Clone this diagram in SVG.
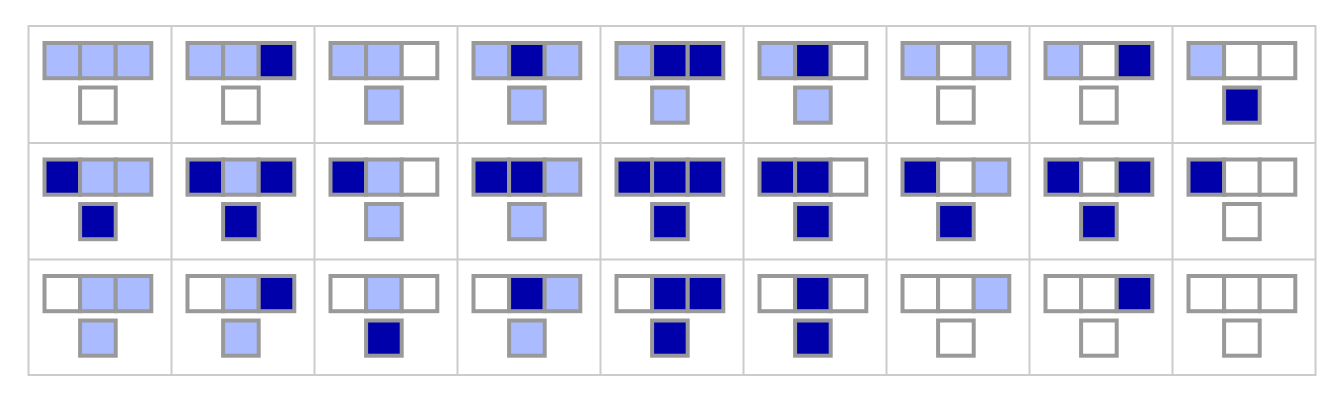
<svg xmlns="http://www.w3.org/2000/svg" width="1342" height="402" viewBox="0 0 1342 402">
<style>
.g{fill:none;stroke:#cccccc;stroke-width:2}
.c{stroke:#999999;stroke-width:4}
.L{fill:#aabbff}
.D{fill:#0000aa}
.W{fill:#ffffff}
</style>
<rect width="1342" height="402" fill="#ffffff"/>
<g id="grid" class="g">
<rect x="28.5" y="26" width="1287" height="349"/>
<path d="M171.5 26V375M314.5 26V375M457.5 26V375M600.5 26V375M743.5 26V375M886.5 26V375M1029.5 26V375M1172.5 26V375M28.5 143H1315.5M28.5 259.5H1315.5"/>
</g>
<g id="connectors"></g>
<g id="r1c1" transform="translate(28.5,26)"><rect class="c L" x="16" y="17" width="35.6" height="35.2"/><rect class="c L" x="51.6" y="17" width="35.6" height="35.2"/><rect class="c L" x="87.2" y="17" width="35.6" height="35.2"/><rect class="c W" x="51.6" y="61.5" width="35.6" height="35.2"/></g>
<g id="r1c2" transform="translate(171.5,26)"><rect class="c L" x="16" y="17" width="35.6" height="35.2"/><rect class="c L" x="51.6" y="17" width="35.6" height="35.2"/><rect class="c D" x="87.2" y="17" width="35.6" height="35.2"/><rect class="c W" x="51.6" y="61.5" width="35.6" height="35.2"/></g>
<g id="r1c3" transform="translate(314.5,26)"><rect class="c L" x="16" y="17" width="35.6" height="35.2"/><rect class="c L" x="51.6" y="17" width="35.6" height="35.2"/><rect class="c W" x="87.2" y="17" width="35.6" height="35.2"/><rect class="c L" x="51.6" y="61.5" width="35.6" height="35.2"/></g>
<g id="r1c4" transform="translate(457.5,26)"><rect class="c L" x="16" y="17" width="35.6" height="35.2"/><rect class="c D" x="51.6" y="17" width="35.6" height="35.2"/><rect class="c L" x="87.2" y="17" width="35.6" height="35.2"/><rect class="c L" x="51.6" y="61.5" width="35.6" height="35.2"/></g>
<g id="r1c5" transform="translate(600.5,26)"><rect class="c L" x="16" y="17" width="35.6" height="35.2"/><rect class="c D" x="51.6" y="17" width="35.6" height="35.2"/><rect class="c D" x="87.2" y="17" width="35.6" height="35.2"/><rect class="c L" x="51.6" y="61.5" width="35.6" height="35.2"/></g>
<g id="r1c6" transform="translate(743.5,26)"><rect class="c L" x="16" y="17" width="35.6" height="35.2"/><rect class="c D" x="51.6" y="17" width="35.6" height="35.2"/><rect class="c W" x="87.2" y="17" width="35.6" height="35.2"/><rect class="c L" x="51.6" y="61.5" width="35.6" height="35.2"/></g>
<g id="r1c7" transform="translate(886.5,26)"><rect class="c L" x="16" y="17" width="35.6" height="35.2"/><rect class="c W" x="51.6" y="17" width="35.6" height="35.2"/><rect class="c L" x="87.2" y="17" width="35.6" height="35.2"/><rect class="c W" x="51.6" y="61.5" width="35.6" height="35.2"/></g>
<g id="r1c8" transform="translate(1029.5,26)"><rect class="c L" x="16" y="17" width="35.6" height="35.2"/><rect class="c W" x="51.6" y="17" width="35.6" height="35.2"/><rect class="c D" x="87.2" y="17" width="35.6" height="35.2"/><rect class="c W" x="51.6" y="61.5" width="35.6" height="35.2"/></g>
<g id="r1c9" transform="translate(1172.5,26)"><rect class="c L" x="16" y="17" width="35.6" height="35.2"/><rect class="c W" x="51.6" y="17" width="35.6" height="35.2"/><rect class="c W" x="87.2" y="17" width="35.6" height="35.2"/><rect class="c D" x="51.6" y="61.5" width="35.6" height="35.2"/></g>
<g id="r2c1" transform="translate(28.5,142.5)"><rect class="c D" x="16" y="17" width="35.6" height="35.2"/><rect class="c L" x="51.6" y="17" width="35.6" height="35.2"/><rect class="c L" x="87.2" y="17" width="35.6" height="35.2"/><rect class="c D" x="51.6" y="61.5" width="35.6" height="35.2"/></g>
<g id="r2c2" transform="translate(171.5,142.5)"><rect class="c D" x="16" y="17" width="35.6" height="35.2"/><rect class="c L" x="51.6" y="17" width="35.6" height="35.2"/><rect class="c D" x="87.2" y="17" width="35.6" height="35.2"/><rect class="c D" x="51.6" y="61.5" width="35.6" height="35.2"/></g>
<g id="r2c3" transform="translate(314.5,142.5)"><rect class="c D" x="16" y="17" width="35.6" height="35.2"/><rect class="c L" x="51.6" y="17" width="35.6" height="35.2"/><rect class="c W" x="87.2" y="17" width="35.6" height="35.2"/><rect class="c L" x="51.6" y="61.5" width="35.6" height="35.2"/></g>
<g id="r2c4" transform="translate(457.5,142.5)"><rect class="c D" x="16" y="17" width="35.6" height="35.2"/><rect class="c D" x="51.6" y="17" width="35.6" height="35.2"/><rect class="c L" x="87.2" y="17" width="35.6" height="35.2"/><rect class="c L" x="51.6" y="61.5" width="35.6" height="35.2"/></g>
<g id="r2c5" transform="translate(600.5,142.5)"><rect class="c D" x="16" y="17" width="35.6" height="35.2"/><rect class="c D" x="51.6" y="17" width="35.6" height="35.2"/><rect class="c D" x="87.2" y="17" width="35.6" height="35.2"/><rect class="c D" x="51.6" y="61.5" width="35.6" height="35.2"/></g>
<g id="r2c6" transform="translate(743.5,142.5)"><rect class="c D" x="16" y="17" width="35.6" height="35.2"/><rect class="c D" x="51.6" y="17" width="35.6" height="35.2"/><rect class="c W" x="87.2" y="17" width="35.6" height="35.2"/><rect class="c D" x="51.6" y="61.5" width="35.6" height="35.2"/></g>
<g id="r2c7" transform="translate(886.5,142.5)"><rect class="c D" x="16" y="17" width="35.6" height="35.2"/><rect class="c W" x="51.6" y="17" width="35.6" height="35.2"/><rect class="c L" x="87.2" y="17" width="35.6" height="35.2"/><rect class="c D" x="51.6" y="61.5" width="35.6" height="35.2"/></g>
<g id="r2c8" transform="translate(1029.5,142.5)"><rect class="c D" x="16" y="17" width="35.6" height="35.2"/><rect class="c W" x="51.6" y="17" width="35.6" height="35.2"/><rect class="c D" x="87.2" y="17" width="35.6" height="35.2"/><rect class="c D" x="51.6" y="61.5" width="35.6" height="35.2"/></g>
<g id="r2c9" transform="translate(1172.5,142.5)"><rect class="c D" x="16" y="17" width="35.6" height="35.2"/><rect class="c W" x="51.6" y="17" width="35.6" height="35.2"/><rect class="c W" x="87.2" y="17" width="35.6" height="35.2"/><rect class="c W" x="51.6" y="61.5" width="35.6" height="35.2"/></g>
<g id="r3c1" transform="translate(28.5,259)"><rect class="c W" x="16" y="17" width="35.6" height="35.2"/><rect class="c L" x="51.6" y="17" width="35.6" height="35.2"/><rect class="c L" x="87.2" y="17" width="35.6" height="35.2"/><rect class="c L" x="51.6" y="61.5" width="35.6" height="35.2"/></g>
<g id="r3c2" transform="translate(171.5,259)"><rect class="c W" x="16" y="17" width="35.6" height="35.2"/><rect class="c L" x="51.6" y="17" width="35.6" height="35.2"/><rect class="c D" x="87.2" y="17" width="35.6" height="35.2"/><rect class="c L" x="51.6" y="61.5" width="35.6" height="35.2"/></g>
<g id="r3c3" transform="translate(314.5,259)"><rect class="c W" x="16" y="17" width="35.6" height="35.2"/><rect class="c L" x="51.6" y="17" width="35.6" height="35.2"/><rect class="c W" x="87.2" y="17" width="35.6" height="35.2"/><rect class="c D" x="51.6" y="61.5" width="35.6" height="35.2"/></g>
<g id="r3c4" transform="translate(457.5,259)"><rect class="c W" x="16" y="17" width="35.6" height="35.2"/><rect class="c D" x="51.6" y="17" width="35.6" height="35.2"/><rect class="c L" x="87.2" y="17" width="35.6" height="35.2"/><rect class="c L" x="51.6" y="61.5" width="35.6" height="35.2"/></g>
<g id="r3c5" transform="translate(600.5,259)"><rect class="c W" x="16" y="17" width="35.6" height="35.2"/><rect class="c D" x="51.6" y="17" width="35.6" height="35.2"/><rect class="c D" x="87.2" y="17" width="35.6" height="35.2"/><rect class="c D" x="51.6" y="61.5" width="35.6" height="35.2"/></g>
<g id="r3c6" transform="translate(743.5,259)"><rect class="c W" x="16" y="17" width="35.6" height="35.2"/><rect class="c D" x="51.6" y="17" width="35.6" height="35.2"/><rect class="c W" x="87.2" y="17" width="35.6" height="35.2"/><rect class="c D" x="51.6" y="61.5" width="35.6" height="35.2"/></g>
<g id="r3c7" transform="translate(886.5,259)"><rect class="c W" x="16" y="17" width="35.6" height="35.2"/><rect class="c W" x="51.6" y="17" width="35.6" height="35.2"/><rect class="c L" x="87.2" y="17" width="35.6" height="35.2"/><rect class="c W" x="51.6" y="61.5" width="35.6" height="35.2"/></g>
<g id="r3c8" transform="translate(1029.5,259)"><rect class="c W" x="16" y="17" width="35.6" height="35.2"/><rect class="c W" x="51.6" y="17" width="35.6" height="35.2"/><rect class="c D" x="87.2" y="17" width="35.6" height="35.2"/><rect class="c W" x="51.6" y="61.5" width="35.6" height="35.2"/></g>
<g id="r3c9" transform="translate(1172.5,259)"><rect class="c W" x="16" y="17" width="35.6" height="35.2"/><rect class="c W" x="51.6" y="17" width="35.6" height="35.2"/><rect class="c W" x="87.2" y="17" width="35.6" height="35.2"/><rect class="c W" x="51.6" y="61.5" width="35.6" height="35.2"/></g>
</svg>
